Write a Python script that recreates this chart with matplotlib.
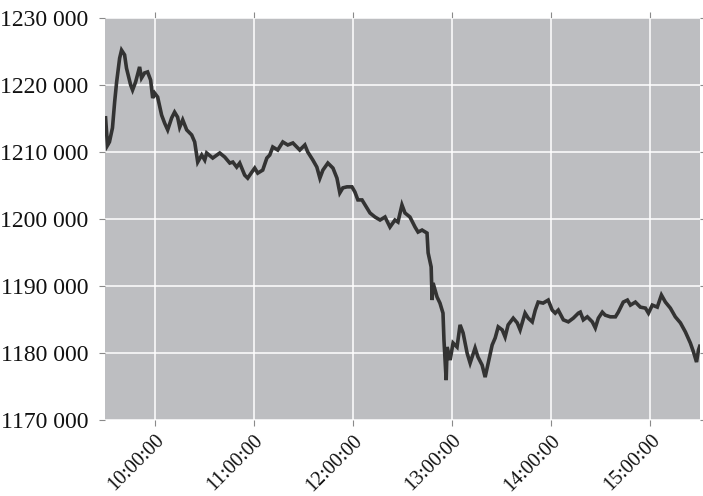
import matplotlib
matplotlib.use("Agg")
import matplotlib.pyplot as plt
import matplotlib.dates as mdates
import matplotlib.ticker as mticker
import pandas as pd

# intraday index level, one trading session
times = [
    "09:30:20", "09:31:30", "09:32:40", "09:34:30", "09:35:50", "09:37:00", "09:38:50", "09:40:00",
    "09:41:50", "09:43:00", "09:45:30", "09:46:40", "09:48:30", "09:50:55", "09:52:05", "09:53:55",
    "09:55:45", "09:57:35", "09:58:50", "10:00:00", "10:01:50", "10:04:15", "10:06:05", "10:07:55",
    "10:10:20", "10:12:05", "10:13:55", "10:15:10", "10:17:00", "10:19:25", "10:22:25", "10:24:15",
    "10:26:05", "10:28:30", "10:30:20", "10:31:30", "10:35:10", "10:39:25", "10:42:25", "10:45:30",
    "10:47:20", "10:49:40", "10:51:30", "10:54:30", "10:56:20", "10:58:50", "11:00:35", "11:02:25",
    "11:05:25", "11:07:55", "11:09:40", "11:11:30", "11:14:30", "11:17:35", "11:20:35", "11:23:40",
    "11:27:50", "11:30:55", "11:32:40", "11:35:45", "11:38:10", "11:40:00", "11:41:50", "11:44:50",
    "11:47:55", "11:50:20", "11:52:05", "11:53:55", "11:56:25", "11:59:25", "12:01:10", "12:03:00",
    "12:05:30", "12:08:30", "12:10:20", "12:13:20", "12:16:25", "12:19:25", "12:22:25", "12:25:25",
    "12:27:15", "12:29:40", "12:31:30", "12:34:30", "12:37:35", "12:39:25", "12:41:50", "12:44:50",
    "12:45:30", "12:47:20", "12:47:55", "12:48:30", "12:50:55", "12:52:40", "12:54:30", "12:55:05",
    "12:56:25", "12:57:00", "12:58:50", "13:00:35", "13:03:00", "13:04:50", "13:06:40", "13:09:05",
    "13:10:55", "13:13:55", "13:15:40", "13:18:10", "13:20:00", "13:21:50", "13:24:15", "13:26:05",
    "13:27:55", "13:30:20", "13:32:05", "13:33:55", "13:37:00", "13:39:25", "13:41:10", "13:44:10",
    "13:46:05", "13:48:30", "13:50:20", "13:52:05", "13:55:05", "13:58:10", "14:00:35", "14:02:25",
    "14:04:15", "14:07:20", "14:10:20", "14:13:20", "14:16:25", "14:17:35", "14:19:25", "14:21:50",
    "14:24:50", "14:26:40", "14:28:30", "14:30:55", "14:32:40", "14:35:45", "14:38:50", "14:40:35",
    "14:43:35", "14:46:05", "14:47:55", "14:50:55", "14:53:55", "14:57:00", "14:58:50", "15:01:10",
    "15:04:10", "15:06:40", "15:09:05", "15:12:05", "15:15:05", "15:18:10", "15:21:10", "15:24:10",
    "15:26:05", "15:27:55", "15:29:05", "15:29:50",
]
prices = [
    1215100, 1211000, 1211500, 1213600, 1217500, 1220400, 1224000, 1225200,
    1224500, 1222500, 1220000, 1219250, 1220450, 1222700, 1221050, 1221800,
    1221950, 1220750, 1218050, 1218800, 1218200, 1215500, 1214300, 1213300,
    1215100, 1215950, 1215200, 1213700, 1214800, 1213300, 1212550, 1211500,
    1208500, 1209550, 1208800, 1209850, 1209100, 1209850, 1209250, 1208350,
    1208500, 1207750, 1208350, 1206550, 1206100, 1207000, 1207600, 1206850,
    1207300, 1209100, 1209550, 1210750, 1210300, 1211500, 1211050, 1211350,
    1210300, 1211050, 1210000, 1208800, 1207750, 1206100, 1207300, 1208350,
    1207600, 1206100, 1203900, 1204650, 1204800, 1204800, 1204050, 1202850,
    1202850, 1201650, 1200900, 1200300, 1199850, 1200300, 1198800, 1199850,
    1199550, 1202100, 1200900, 1200300, 1198800, 1198050, 1198350, 1197900,
    1194950, 1192850, 1187900, 1190450, 1188350, 1187450, 1185950, 1181950,
    1175950, 1180900, 1178950, 1181500, 1180900, 1184200, 1183000, 1180000,
    1178500, 1180750, 1179400, 1178200, 1176400, 1178500, 1181200, 1182250,
    1183900, 1183450, 1182400, 1184200, 1185200, 1184500, 1183450, 1185950,
    1185200, 1184650, 1186400, 1187600, 1187450, 1187900, 1186400, 1185950,
    1186400, 1184950, 1184650, 1185200, 1185950, 1186100, 1184950, 1185400,
    1184650, 1183750, 1185200, 1186100, 1185650, 1185400, 1185400, 1186100,
    1187600, 1187900, 1187150, 1187600, 1186850, 1186700, 1185950, 1187150,
    1186850, 1188650, 1187600, 1186700, 1185400, 1184500, 1183150, 1181500,
    1180150, 1178650, 1180450, 1181000,
]
hour_ticks = ["10:00:00", "11:00:00", "12:00:00", "13:00:00", "14:00:00", "15:00:00"]
y_ticks = [1170000, 1180000, 1190000, 1200000, 1210000, 1220000, 1230000]

day = "2015-01-05 "
t = pd.to_datetime([day + s for s in times])


def level_fmt(v, pos):
    # only the last group gets a space: 1230 000
    v = int(round(v))
    return f"{v // 1000} {v % 1000:03d}"


plt.rcParams['font.family'] = ['Liberation Serif', 'DejaVu Serif']

fig = plt.figure(figsize=(7.03, 4.96), dpi=100)
ax = fig.add_axes([0.1494, 0.1532, 0.8463, 0.8105])
ax.set_facecolor('#bdbec1')

ax.plot(t, prices, color='#333333', linewidth=2.6, solid_joinstyle='miter')

ax.set_xlim(pd.Timestamp(day + "09:30:00"), pd.Timestamp(day + "15:30:00"))
ax.set_ylim(1170000, 1230000)
ax.set_xticks(pd.to_datetime([day + s for s in hour_ticks]))
ax.xaxis.set_major_formatter(mdates.DateFormatter('%H:%M:%S'))
ax.set_yticks(y_ticks)
ax.yaxis.set_major_formatter(mticker.FuncFormatter(level_fmt))

ax.grid(True, color='white', linewidth=1.1)
ax.set_axisbelow(True)
for sp in ax.spines.values():
    sp.set_visible(False)

ax.tick_params(axis='both', which='major', direction='out', length=4, width=0.8,
               color='#8a8a8a', labelcolor='#111111', top=True, right=True)
ax.tick_params(axis='y', labelsize=17, pad=8)
ax.tick_params(axis='x', labelsize=14.5, pad=4)
plt.setp(ax.get_xticklabels(), rotation=45, ha='right', rotation_mode='anchor')

plt.savefig('out.png', dpi=100)
